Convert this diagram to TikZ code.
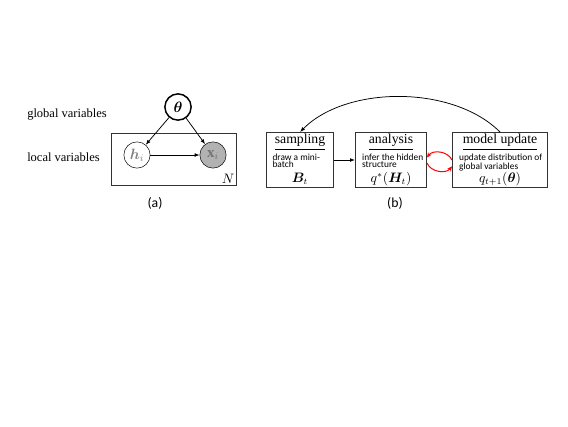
\documentclass[tikz,border=0pt]{standalone}
\usepackage{amsmath}
\usepackage{bm}
\usepackage{fontspec}
\setmainfont{Liberation Serif}
\newfontfamily\calibfont{Carlito}
\usetikzlibrary{positioning,arrows.meta}

\begin{document}
\begin{tikzpicture}[x=0.8pt, y=-0.8pt,
  var/.style={circle, draw, minimum size=21pt, inner sep=0pt, font=\fontsize{12}{14}\selectfont},
  edge/.style={-{Latex[length=4pt,width=3pt]}, semithick},
  stage/.style={draw=black!80, thick, minimum height=44pt, anchor=north west, inner sep=0pt},
  stagetitle/.style={font=\fontsize{11}{12}\selectfont, inner sep=0pt},
  stagetext/.style={font=\calibfont\fontsize{7.5}{6}\selectfont, align=left, anchor=north west, inner sep=0pt},
  stagemath/.style={font=\fontsize{10.5}{12}\selectfont, inner sep=0pt},
  sidetext/.style={anchor=west, font=\fontsize{10}{12}\selectfont, inner sep=0pt},
  caption/.style={font=\calibfont\fontsize{11}{13}\selectfont},
  loop/.style={red, line width=0.8pt, -{Stealth[length=4pt,width=3.5pt]}}]
\useasboundingbox (0,0) rectangle (568,426);

% (a) graphical model
\node[sidetext] (GLOBAL) at (27,115) {global variables};
\node[sidetext] (LOCAL) at (27,157) {local variables};
\node[draw=black!80, thick, minimum width=100pt, minimum height=41.6pt] (PLATE) at (173.5,159) {};
\node[var, very thick] (THETA) at (178,107) {$\bm{\theta}$};
\node[var, text=black!50] (H) at (137,155) {$\bm{h}_i$};
\node[var, fill=black!30, text=black!55] (X) at (213,155) {$\mathbf{x}_i$};
\node[anchor=south east, inner sep=1.5pt, font=\fontsize{11}{12}\selectfont] (NLABEL) at (PLATE.south east) {$N$};
\draw[edge] (THETA) -- (H);
\draw[edge] (THETA) -- (X);
\draw[edge] (H) -- (X);
\node[caption] (CAPA) at (155,203) {(a)};

% (b) stochastic loop
\node[stage, minimum width=53.6pt] (SAMP) at (266,132) {};
\node[stage, minimum width=56.8pt] (ANA) at (355,132) {};
\node[stage, minimum width=76pt] (UPD) at (452,132) {};

\node[stagetitle] (SAMPT) at ([yshift=-8pt]SAMP.north) {\underline{sampling}};
\node[stagetitle] (ANAT) at ([yshift=-8pt]ANA.north) {\underline{analysis}};
\node[stagetitle] (UPDT) at ([yshift=-8pt]UPD.north) {\underline{model update}};

\node[stagetext] (SAMPD) at ([xshift=5pt,yshift=-17pt]SAMP.north west) {draw a mini-\\batch};
\node[stagetext] (ANAD) at ([xshift=5.5pt,yshift=-17pt]ANA.north west) {infer the hidden\\structure};
\node[stagetext] (UPDD) at ([xshift=5.5pt,yshift=-17pt]UPD.north west) {update distribution of\\global variables};

\node[stagemath] (SAMPF) at ([yshift=7.5pt]SAMP.south) {$\bm{B}_t$};
\node[stagemath] (ANAF) at ([yshift=7.5pt]ANA.south) {$q^*(\bm{H}_t)$};
\node[stagemath] (UPDF) at ([yshift=7.5pt]UPD.south) {$q_{t+1}(\bm{\theta})$};

\draw[edge] (SAMP) -- (ANA);
\draw[loop] ([yshift=0pt]UPD.west) to[bend right=60] ([yshift=2pt]ANA.east);
\draw[loop] ([yshift=-2.5pt]ANA.east) to[bend right=60] ([yshift=-5pt]UPD.west);
\draw[edge] (UPD.north) to[out=135, in=45, looseness=0.85] (SAMP.north);

\node[caption] (CAPB) at (395,203) {(b)};
\end{tikzpicture}
\end{document}
